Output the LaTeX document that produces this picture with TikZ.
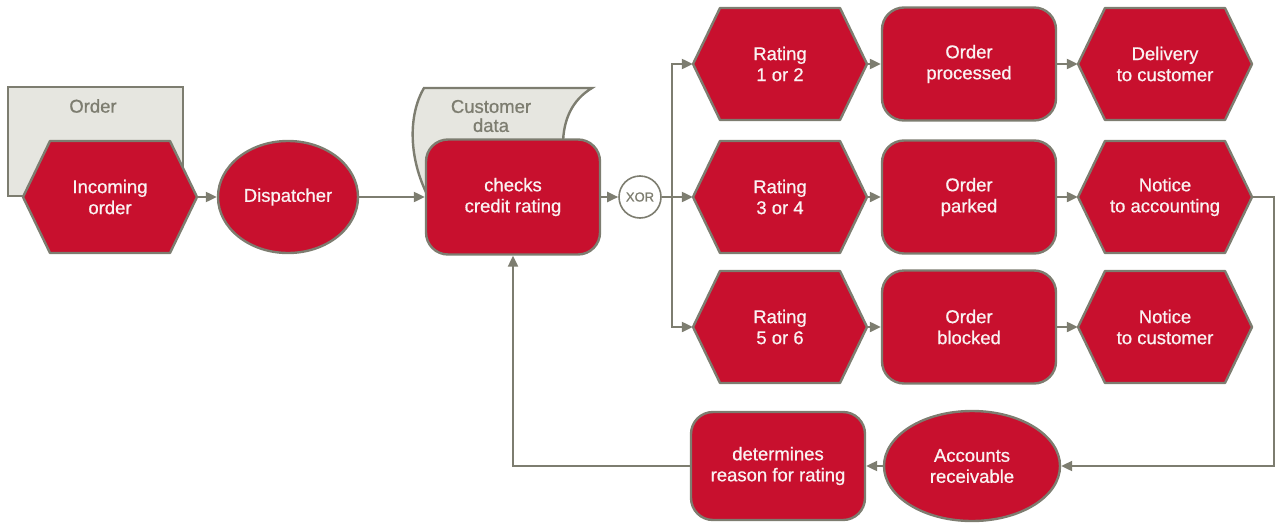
\documentclass[tikz,border=0pt]{standalone}
\usepackage{fontspec}
\setmainfont{Liberation Sans}
\newfontfamily\medfont{Liberation Sans}[FakeBold=0.7]
\usetikzlibrary{shapes.geometric,arrows.meta}
\definecolor{epcred}{RGB}{200,16,46}
\definecolor{epcgray}{RGB}{125,125,112}
\definecolor{docfill}{RGB}{230,230,224}
\definecolor{txtwhite}{RGB}{250,242,242}
\newcommand\nodefont{\medfont\fontsize{18.5}{21}\selectfont}
\tikzset{
  base/.style={draw=epcgray,line width=2.4pt,fill=epcred,text=txtwhite,font=\nodefont,align=center,inner sep=0pt},
  hexshape/.style={draw=epcgray,line width=2.4pt,fill=epcred,line join=round},
  hextxt/.style={text=txtwhite,font=\nodefont,align=center,minimum width=174pt,minimum height=112pt,inner sep=0pt},
  funcbox/.style={base,rounded corners=22pt,minimum width=174pt,minimum height=113pt},
  orgell/.style={base,ellipse,minimum width=140pt,minimum height=112pt},
  docshape/.style={draw=epcgray,line width=2.4pt,fill=docfill},
  doctxt/.style={text=epcgray,font=\nodefont,align=center,inner sep=0pt},
  xorc/.style={circle,draw=epcgray,line width=1.6pt,fill=white,text=epcgray,font=\medfont\fontsize{13}{15}\selectfont,minimum size=42pt,inner sep=0pt},
  conn/.style={draw=epcgray,line width=2.2pt,-{Triangle[length=11pt,width=10pt]}},
}
\newcommand\HexAt[4]{%
  \filldraw[hexshape] (#2-87,#3) -- (#2-60,#3-56) -- (#2+60,#3-56) -- (#2+87,#3) -- (#2+60,#3+56) -- (#2-60,#3+56) -- cycle;
  \node[hextxt] (#1) at (#2,#3) {#4};}
\begin{document}
\begin{tikzpicture}[x=1pt,y=-1pt]
\useasboundingbox (0,0) rectangle (1276,522);
% documents
\filldraw[docshape] (8,87) rectangle (183,196);
\node[doctxt] (ordertxt) at (93,106) {Order};
\filldraw[docshape] (430,200) .. controls (408,160) and (408,115) .. (424,88) -- (592,88) .. controls (572,100) and (563,120) .. (563,145) -- cycle;
\node[doctxt] (custtxt) at (491,116) {Customer\\[-2pt]data};
% main row
\HexAt{inc}{110}{197}{Incoming\\order}
\node[orgell] (disp) at (288,197) {Dispatcher};
\node[funcbox,minimum height=115pt] (checks) at (513,197) {checks\\credit rating};
\node[xorc] (xor) at (640,197) {XOR};
% branches
\HexAt{r12}{780}{64}{Rating\\1 or 2}
\node[funcbox] (op) at (969,64) {Order\\processed};
\HexAt{del}{1165}{64}{Delivery\\to customer}
\HexAt{r34}{780}{197}{Rating\\3 or 4}
\node[funcbox] (park) at (969,197) {Order\\parked};
\HexAt{na}{1165}{197}{Notice\\to accounting}
\HexAt{r56}{780}{327}{Rating\\5 or 6}
\node[funcbox] (blk) at (969,327) {Order\\blocked};
\HexAt{nc}{1165}{327}{Notice\\to customer}
% bottom row
\node[funcbox,minimum height=108pt] (det) at (778,466) {determines\\reason for rating};
\node[orgell,minimum width=176pt,minimum height=110pt] (ar) at (972,466) {Accounts\\receivable};
% connectors
\coordinate (split) at (672,197);
\draw[conn] (inc.east) -- (disp.west);
\draw[conn] (disp.east) -- (checks.west);
\draw[conn] (checks.east) -- (xor.west);
\draw[conn] (xor.east) -- (r34.west);
\draw[conn] (split) |- (r12.west);
\draw[conn] (split) |- (r56.west);
\draw[conn] (r12.east) -- (op.west);
\draw[conn] (op.east) -- (del.west);
\draw[conn] (r34.east) -- (park.west);
\draw[conn] (park.east) -- (na.west);
\draw[conn] (r56.east) -- (blk.west);
\draw[conn] (blk.east) -- (nc.west);
\draw[conn] (na.east) -- ++(22,0) |- (ar.east);
\draw[conn] (ar.west) -- (det.east);
\draw[conn] (det.west) -| (checks.south);
\end{tikzpicture}
\end{document}
